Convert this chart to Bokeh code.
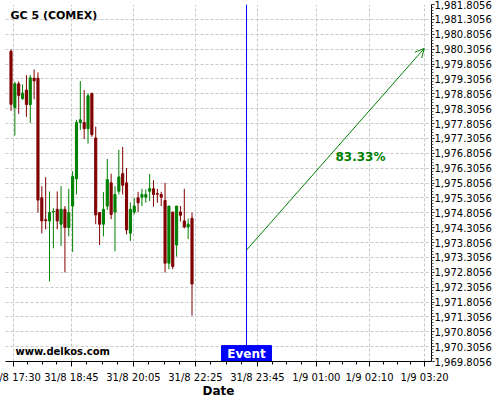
from bokeh.plotting import figure
from bokeh.models import (Range1d, FixedTicker, NumeralTickFormatter, Span, Label,
                          Arrow, OpenHead, ColumnDataSource)
from bokeh.embed import file_html
from bokeh.resources import INLINE

# ---- data ----
opens = [1980.23, 1978.34, 1979.14, 1978.64, 1978.93, 1978.44, 1979.33, 1979.33,
         1975.31, 1974.57, 1974.53, 1974.83, 1974.92, 1974.42, 1974.92, 1974.31,
         1975.03, 1975.95, 1977.84, 1977.84, 1977.63, 1978.82, 1977.32, 1974.81,
         1974.42, 1975.03, 1975.81, 1974.83, 1975.53, 1976.12, 1975.81, 1974.12,
         1974.83, 1975.31, 1975.33, 1975.33, 1975.53, 1975.61, 1975.45, 1975.42,
         1975.22, 1973.11, 1974.83, 1973.72, 1974.83, 1974.53, 1974.33, 1974.62]
highs = [1980.30, 1979.21, 1979.22, 1979.12, 1979.43, 1979.44, 1979.62, 1979.52,
         1975.70, 1976.00, 1975.52, 1974.96, 1975.52, 1975.70, 1975.03, 1975.61,
         1976.20, 1977.93, 1979.23, 1978.93, 1978.82, 1978.82, 1977.70, 1974.81,
         1975.50, 1976.61, 1976.12, 1975.70, 1976.92, 1977.02, 1976.31, 1975.15,
         1975.31, 1975.51, 1975.61, 1975.59, 1976.11, 1975.90, 1975.61, 1975.51,
         1975.81, 1975.03, 1974.83, 1975.03, 1975.03, 1975.61, 1974.61, 1974.81]
lows = [1978.23, 1977.40, 1978.13, 1978.60, 1978.03, 1977.82, 1978.62, 1974.81,
        1974.11, 1974.25, 1972.50, 1973.61, 1974.25, 1973.69, 1972.80, 1974.01,
        1973.49, 1975.42, 1977.59, 1977.28, 1977.13, 1977.36, 1974.42, 1973.72,
        1974.01, 1974.90, 1974.59, 1973.51, 1975.42, 1975.42, 1974.08, 1973.86,
        1974.75, 1974.83, 1975.03, 1975.14, 1975.20, 1975.01, 1975.14, 1975.03,
        1972.80, 1972.91, 1972.91, 1973.33, 1974.51, 1974.28, 1973.92, 1971.35]
closes = [1978.45, 1979.14, 1978.75, 1978.83, 1978.44, 1979.34, 1979.24, 1975.23,
          1974.53, 1974.54, 1974.81, 1974.85, 1974.53, 1974.92, 1974.31, 1974.81,
          1976.02, 1977.84, 1977.93, 1977.63, 1978.74, 1977.43, 1974.73, 1974.42,
          1974.92, 1975.92, 1974.75, 1975.42, 1976.01, 1975.73, 1974.23, 1974.92,
          1975.03, 1975.14, 1975.42, 1975.42, 1975.62, 1975.42, 1975.43, 1975.33,
          1973.11, 1975.03, 1973.00, 1975.03, 1974.72, 1974.33, 1974.42, 1972.41]
bar_index = list(range(len(opens)))

x_tick_pos = [0.65, 15.7, 31.8, 47.9, 64.0, 79.3, 93.1, 107.4]
x_tick_labels = ["31/8 17:30", "31/8 18:45", "31/8 20:05", "31/8 22:25",
                 "31/8 23:45", "1/9 01:00", "1/9 02:10", "1/9 03:20"]
y_first_tick = 1969.8056
y_tick_step = 0.5
y_tick_count = 25

title_text = "GC 5 (COMEX)"
watermark = "www.delkos.com"
event_x = 61.15
event_label = "Event"
arrow_y_start = 1973.55
arrow_x_end = 107.3
arrow_y_end = 1980.33
pct_label = "83.33%"

UP = "#008000"
DOWN = "#800000"
FONT = "DejaVu Sans"

colors = [UP if c >= o else DOWN for o, c in zip(opens, closes)]
src = ColumnDataSource(dict(
    x=bar_index, h=highs, l=lows,
    top=[max(o, c) for o, c in zip(opens, closes)],
    bottom=[min(o, c) for o, c in zip(opens, closes)],
    color=colors))

y_ticks = [y_first_tick + y_tick_step * k for k in range(y_tick_count)]
y_minor = [y_first_tick + 0.1 * k for k in range((y_tick_count - 1) * 5 + 1)]
x_minor = []
for a, b in zip(x_tick_pos[:-1], x_tick_pos[1:]):
    x_minor += [a + (b - a) * f for f in (0.25, 0.5, 0.75)]

# canvas is 14px wider on the left and shifted left, so that the first
# date label runs off the left edge as in the original
p = figure(width=514, height=400,
           x_range=Range1d(-1.43, 109.19),
           y_range=Range1d(1969.8056, 1981.8056),
           y_axis_location="right",
           output_backend="svg", toolbar_location=None,
           min_border_left=19, min_border_top=4,
           min_border_right=69, min_border_bottom=37)
p.styles = {"margin-left": "-14px"}
p.title.visible = False
p.outline_line_color = None
p.background_fill_color = "white"

# grids
for g in (p.xgrid, p.ygrid):
    g.grid_line_color = "#c8c8c8"
    g.grid_line_dash = "3 2"
    g.grid_line_width = 1

# y axis
ya = p.yaxis[0]
ya.ticker = FixedTicker(ticks=y_ticks, minor_ticks=y_minor)
ya.formatter = NumeralTickFormatter(format="0,0.0000")
ya.major_tick_out = 3
ya.major_tick_in = 0
ya.minor_tick_out = 2
ya.minor_tick_in = 0
ya.major_label_standoff = 0
ya.major_label_text_font = FONT
ya.major_label_text_font_size = "10px"
ya.major_label_text_color = "black"
ya.axis_line_color = "black"
ya.major_tick_line_color = "black"
ya.minor_tick_line_color = "#555555"

# x axis
xa = p.xaxis[0]
xa.ticker = FixedTicker(ticks=x_tick_pos, minor_ticks=x_minor)
xa.major_label_overrides = dict(zip(x_tick_pos, x_tick_labels))
xa.major_tick_out = 5
xa.major_tick_in = 0
xa.minor_tick_out = 3
xa.minor_tick_in = 0
xa.major_label_standoff = 5
xa.major_label_text_font = FONT
xa.major_label_text_font_size = "10px"
xa.major_label_text_color = "black"
xa.axis_label = "Date"
xa.axis_label_text_font = FONT
xa.axis_label_text_font_size = "12px"
xa.axis_label_text_font_style = "bold"
xa.axis_label_text_color = "black"
xa.axis_label_standoff = -2
xa.axis_line_color = "black"

# candles
p.segment(x0="x", y0="h", x1="x", y1="l", line_color="color", line_width=1, source=src)
p.vbar(x="x", width=0.55, top="top", bottom="bottom", fill_color="color",
       line_color="color", line_width=1, source=src)

# event line + box
p.add_layout(Span(location=event_x, dimension="height", line_color="blue", line_width=1))
p.quad(left=[54.66], right=[67.64], bottom=[1969.8056], top=[1970.34],
       fill_color="blue", line_color="blue")
p.add_layout(Label(x=event_x, y=1970.073, text=event_label, text_align="center",
                   text_baseline="middle", text_color="white", text_font=FONT,
                   text_font_style="bold", text_font_size="12px"))

# arrow
p.add_layout(Arrow(x_start=event_x, y_start=arrow_y_start, x_end=arrow_x_end, y_end=arrow_y_end,
                   line_color=UP, line_width=1,
                   end=OpenHead(size=9, line_color=UP, line_width=1)))
p.add_layout(Label(x=84.26, y=1976.67, text=pct_label, text_align="left",
                   text_baseline="middle", text_color=UP, text_font=FONT,
                   text_font_style="bold", text_font_size="12px"))

# texts
p.add_layout(Label(x=-0.13, y=1981.44, text=title_text, text_align="left",
                   text_baseline="middle", text_color="black", text_font=FONT,
                   text_font_style="bold", text_font_size="11px"))
p.add_layout(Label(x=1.17, y=1970.14, text=watermark, text_align="left",
                   text_baseline="middle", text_color="black", text_font=FONT,
                   text_font_style="bold", text_font_size="10px"))

open("out.html", "w").write(file_html(p, INLINE))
